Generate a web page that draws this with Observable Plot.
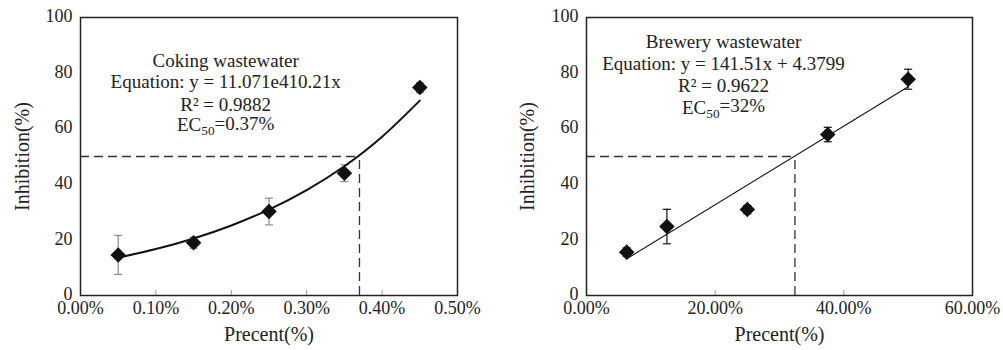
<!DOCTYPE html>
<html>
<head>
<meta charset="utf-8">
<script src="https://cdn.jsdelivr.net/npm/d3@7"></script>
<script src="https://cdn.jsdelivr.net/npm/@observablehq/plot@0.6"></script>
<style>
  body { margin: 0; background: #fff; }
  #wrap { display: flex; width: 1003px; height: 350px; }
  svg, svg text, svg g { font-family: "Liberation Serif", "Times New Roman", serif !important; font-variant: normal !important; font-variant-numeric: normal !important; }
</style>
</head>
<body>
<div id="wrap"></div>
<script>
// ---- Coking wastewater (left) ----
const cokingX = [0.05, 0.15, 0.25, 0.35, 0.45];          // Precent (%)
const cokingY = [14.6, 19.0, 30.2, 44.0, 74.8];          // Inhibition (%)
const cokingErr = [7.0, 2.0, 4.8, 3.0, 1.8];
const cokingFitX = [0.05, 0.10, 0.15, 0.20, 0.25, 0.30, 0.35, 0.40, 0.45];
const cokingFitY = [13.6, 16.7, 20.5, 25.2, 30.9, 37.9, 46.5, 57.1, 70.1];
const cokingEC50 = 0.37;
const cokingTicksX = [0, 0.1, 0.2, 0.3, 0.4, 0.5];
const cokingText = ["Coking wastewater", "Equation: y = 11.071e410.21x", "R² = 0.9882", "EC50=0.37%"];

// ---- Brewery wastewater (right) ----
const breweryX = [6.25, 12.5, 25, 37.5, 50];
const breweryY = [15.6, 24.8, 30.9, 57.9, 77.8];
const breweryErr = [1.5, 6.2, 1.5, 2.6, 3.6];
const breweryFitX = [6.25, 50];
const breweryFitY = [13.2, 75.1];
const breweryEC50 = 32.4;
const breweryTicksX = [0, 20, 40, 60];
const breweryText = ["Brewery wastewater", "Equation: y = 141.51x + 4.3799", "R² = 0.9622", "EC50=32%"];

const ticksY = [0, 20, 40, 60, 80, 100];

const capSymbol = {
  draw(ctx, size) {
    const r = Math.sqrt(size / Math.PI);
    ctx.moveTo(-r, 0); ctx.lineTo(r, 0);
  }
};

const FONT = '"Liberation Serif", serif';

function panel(cfg) {
  const H = 350, mt = 17, mb = 55;
  const innerH = H - mt - mb;
  const pts = cfg.x.map((x, i) => ({x, y: cfg.y[i], e: cfg.err[i]}));
  const fit = cfg.fitX.map((x, i) => ({x, y: cfg.fitY[i]}));
  const ann = cfg.text.map((t, i) => ({t, y: cfg.annY[i]}));
  const svg = Plot.plot({
    width: cfg.width, height: H,
    marginLeft: cfg.ml, marginRight: cfg.mr, marginTop: mt, marginBottom: mb,
    style: {fontFamily: FONT, fontSize: "18px", background: "#fff", color: "#111"},
    x: {domain: cfg.domainX, axis: null},
    y: {domain: [0, 100], axis: null},
    marks: [
      Plot.text(ticksY, {y: d => d, frameAnchor: "left", dx: -8, dy: -1, textAnchor: "end",
        fontSize: 18, fontFamily: FONT, fill: "#222", text: d => String(d)}),
      Plot.text(cfg.ticksX, {x: d => d, frameAnchor: "bottom", dy: 18,
        fontSize: 18, fontFamily: FONT, fill: "#222", text: cfg.fmt}),
      Plot.text(["Inhibition(%)"], {frameAnchor: "left", dx: -cfg.labelOffsetY, rotate: -90,
        fontSize: 20, fontFamily: FONT, fill: "#222", textAnchor: "middle"}),
      Plot.text(["Precent(%)"], {frameAnchor: "bottom", dy: 45,
        fontSize: 20, fontFamily: FONT, fill: "#222", textAnchor: "middle"}),
      Plot.tickX(cfg.ticksX.slice(1, -1), {x: d => d, stroke: "#999", strokeWidth: 1, insetTop: innerH - 5}),
      Plot.ruleY([50], {x1: 0, x2: cfg.ec50, stroke: "#333", strokeWidth: 1.3, strokeDasharray: "9,5"}),
      Plot.ruleX([cfg.ec50], {y1: 0, y2: 50, stroke: "#333", strokeWidth: 1.3, strokeDasharray: "9,5"}),
      Plot.ruleX(pts, {x: "x", y1: d => d.y - d.e, y2: d => d.y + d.e, stroke: cfg.errColor, strokeWidth: 1.2}),
      Plot.dot(pts, {x: "x", y: d => d.y + d.e, symbol: capSymbol, r: 4, stroke: cfg.errColor, strokeWidth: 1.2, fill: "none"}),
      Plot.dot(pts, {x: "x", y: d => d.y - d.e, symbol: capSymbol, r: 4, stroke: cfg.errColor, strokeWidth: 1.2, fill: "none"}),
      Plot.line(fit, {x: "x", y: "y", curve: "natural", stroke: "#111", strokeWidth: cfg.fitWidth}),
      Plot.dot(pts, {x: "x", y: "y", symbol: "diamond2", r: 7, fill: "#111", stroke: "none"}),
      Plot.text(ann, {x: cfg.annX, y: "y", text: "t", fontSize: 19, fontFamily: FONT, fill: "#222", textAnchor: "middle"}),
      Plot.frame({stroke: "#222", strokeWidth: 1.5})
    ]
  });
  // subscript for EC50
  d3.select(svg).selectAll("text").each(function() {
    const t = this.textContent;
    if (t.startsWith("EC50")) {
      const el = d3.select(this);
      el.text(null);
      el.append("tspan").text("EC");
      el.append("tspan").attr("dy", "0.3em").attr("font-size", "0.7em").text("50");
      el.append("tspan").attr("dy", "-0.3em").text(t.slice(4));
    }
  });
  return svg;
}

const wrap = document.getElementById("wrap");
wrap.appendChild(panel({
  width: 490, ml: 80, mr: 33, domainX: [0, 0.5],
  x: cokingX, y: cokingY, err: cokingErr, fitX: cokingFitX, fitY: cokingFitY,
  ec50: cokingEC50, ticksX: cokingTicksX, fmt: d => d.toFixed(2) + "%",
  text: cokingText, annX: 0.1925, annY: [84.5, 77, 68.7, 61.2],
  errColor: "#888", fitWidth: 2, labelOffsetY: 58
}));
wrap.appendChild(panel({
  width: 513, ml: 96, mr: 31, domainX: [0, 60],
  x: breweryX, y: breweryY, err: breweryErr, fitX: breweryFitX, fitY: breweryFitY,
  ec50: breweryEC50, ticksX: breweryTicksX, fmt: d => d.toFixed(2) + "%",
  text: breweryText, annX: 21.3, annY: [91.1, 83.3, 75.5, 67.5],
  errColor: "#111", fitWidth: 1.1, labelOffsetY: 59
}));
</script>
</body>
</html>
